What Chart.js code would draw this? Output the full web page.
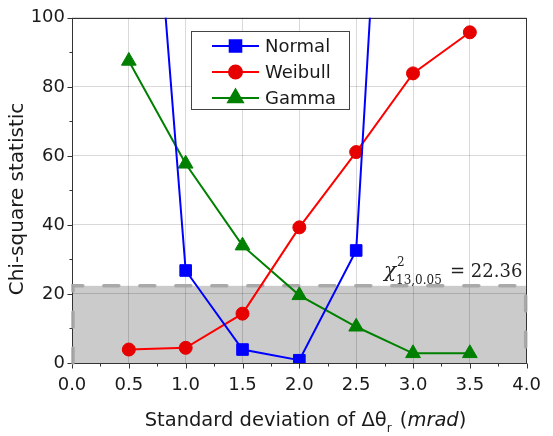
<!DOCTYPE html>
<html><head><meta charset="utf-8">
<script src="https://cdn.jsdelivr.net/npm/chart.js@4/dist/chart.umd.min.js"></script>
<style>html,body{margin:0;padding:0;background:#fff;}</style>
</head><body>
<canvas id="c" width="553" height="436"></canvas>
<script>
// ---- data ----
const xValues = [0.5, 1.0, 1.5, 2.0, 2.5, 3.0, 3.5];
const normalValues = [235, 26.8, 3.9, 0.8, 32.6, 312, null];
const weibullValues = [3.9, 4.4, 14.3, 39.3, 61.1, 83.9, 95.8];
const gammaValues = [87.5, 57.7, 34.0, 19.6, 10.5, 2.8, 2.8];
const seriesNames = ['Normal', 'Weibull', 'Gamma'];
const xTickValues = [0, 0.5, 1.0, 1.5, 2.0, 2.5, 3.0, 3.5, 4.0];
const yTickValues = [0, 20, 40, 60, 80, 100];
const criticalValue = 22.36;
const criticalLabel = ['χ', '2', '13,0.05', '= 22.36'];
const yTitle = 'Chi-square statistic';
const xTitleParts = ['Standard deviation of Δθ', 'r', ' (', 'mrad', ')'];

const toPoints = arr => xValues.map((x, i) => ({x: x, y: arr[i]}));

const TXT = '#1a1a1a';
const SANS = 'DejaVu Sans';

const chartPlugin = {
  id: 'custom',
  beforeDraw(chart) {
    const {ctx, chartArea: a, scales: {x, y}} = chart;
    const yc = y.getPixelForValue(criticalValue);
    ctx.save();
    ctx.fillStyle = '#cbcbcb';
    ctx.fillRect(a.left, yc, a.right - a.left, a.bottom - yc);
    ctx.restore();
  },
  beforeDatasetsDraw(chart) {
    const {ctx, chartArea: a, scales: {x, y}} = chart;
    ctx.save();
    ctx.strokeStyle = '#333';
    ctx.lineWidth = 1;
    ctx.strokeRect(Math.round(a.left) + 0.5, Math.round(a.top) + 0.5,
      Math.round(a.right - a.left) - 1, Math.round(a.bottom - a.top));
    ctx.beginPath();
    const bottom = Math.round(a.bottom) + 0.5;
    const left = Math.round(a.left) + 0.5;
    xTickValues.forEach((v, i) => {
      const px = Math.round(x.getPixelForValue(v)) + 0.5;
      ctx.moveTo(px, bottom); ctx.lineTo(px, bottom + 5);
      if (i < xTickValues.length - 1) {
        const m = Math.round(x.getPixelForValue((v + xTickValues[i + 1]) / 2)) + 0.5;
        ctx.moveTo(m, bottom); ctx.lineTo(m, bottom + 3);
      }
    });
    yTickValues.forEach((v, i) => {
      const py = Math.round(y.getPixelForValue(v)) + 0.5;
      ctx.moveTo(left, py); ctx.lineTo(left - 5, py);
      if (i < yTickValues.length - 1) {
        const m = Math.round(y.getPixelForValue((v + yTickValues[i + 1]) / 2)) + 0.5;
        ctx.moveTo(left, m); ctx.lineTo(left - 3, m);
      }
    });
    ctx.stroke();
    const yc = y.getPixelForValue(criticalValue);
    ctx.strokeStyle = 'rgba(165,165,165,0.95)';
    ctx.lineWidth = 3.5;
    ctx.lineCap = 'round';
    ctx.setLineDash([15, 21]);
    ctx.beginPath();
    ctx.moveTo(a.left + 1, a.bottom);
    ctx.lineTo(a.left + 1, yc);
    ctx.lineTo(a.right - 1, yc);
    ctx.lineTo(a.right - 1, a.bottom);
    ctx.stroke();
    ctx.restore();
  },
  afterDatasetsDraw(chart) {
    const {ctx} = chart;
    ctx.save();
    ctx.fillStyle = '#fff';
    ctx.fillRect(191.5, 31.5, 158, 78);
    ctx.strokeStyle = '#444';
    ctx.lineWidth = 1;
    ctx.strokeRect(191.5, 31.5, 158, 78);
    chart.data.datasets.forEach((ds, i) => {
      const yy = 46 + i * 26;
      ctx.strokeStyle = ds.borderColor;
      ctx.lineWidth = ds.borderWidth;
      ctx.setLineDash([]);
      ctx.beginPath();
      ctx.moveTo(212, yy); ctx.lineTo(259, yy);
      ctx.stroke();
      ctx.fillStyle = ds.pointBackgroundColor;
      ctx.strokeStyle = ds.pointBorderColor;
      Chart.helpers.drawPoint(ctx, {pointStyle: ds.pointStyle, radius: ds.pointRadius, borderWidth: ds.pointBorderWidth, rotation: 0}, 235.5, yy);
      ctx.fillStyle = TXT;
      ctx.font = '18px ' + SANS;
      ctx.textBaseline = 'middle';
      ctx.textAlign = 'left';
      ctx.fillText(ds.label, 265, yy + 1);
    });
    ctx.restore();
  },
  afterDraw(chart) {
    const {ctx} = chart;
    ctx.save();
    ctx.fillStyle = TXT;
    ctx.save();
    ctx.translate(17.5, 199);
    ctx.rotate(-Math.PI / 2);
    ctx.font = '20px ' + SANS;
    ctx.textAlign = 'center';
    ctx.textBaseline = 'middle';
    ctx.fillText(yTitle, 0, 0);
    ctx.restore();
    const fonts = ['19.5px ' + SANS, '12px ' + SANS, '19.5px ' + SANS, 'italic 19.5px ' + SANS, '19.5px ' + SANS];
    const dys = [0, 6, 0, 0, 0];
    let total = 0;
    const widths = xTitleParts.map((t, i) => { ctx.font = fonts[i]; const w = ctx.measureText(t).width; total += w; return w; });
    let xx = 304.5 - total / 2;
    ctx.textBaseline = 'alphabetic';
    ctx.textAlign = 'left';
    xTitleParts.forEach((t, i) => {
      ctx.font = fonts[i];
      ctx.fillText(t, xx, 426 + dys[i]);
      xx += widths[i] + (i === 1 ? 2 : 0);
    });
    ctx.fillStyle = '#222';
    ctx.font = 'italic 20px DejaVu Serif';
    ctx.fillText(criticalLabel[0], 384, 277);
    ctx.font = '12px DejaVu Serif';
    ctx.fillText(criticalLabel[1], 397, 266);
    ctx.fillText(criticalLabel[2], 396, 284);
    ctx.font = '18px DejaVu Serif';
    ctx.fillText(criticalLabel[3], 450, 277);
    ctx.restore();
  }
};

const fixTicks = vals => scale => { scale.ticks = vals.map(v => ({value: v})); };

new Chart(document.getElementById('c'), {
  type: 'line',
  data: {
    datasets: [
      {label: seriesNames[0], data: toPoints(normalValues), borderColor: '#0000ff', backgroundColor: '#0000ff',
       pointBackgroundColor: '#0000ff', pointBorderColor: '#0000ff', pointStyle: 'rect', pointRadius: 8.2, pointBorderWidth: 1, borderWidth: 2, spanGaps: false},
      {label: seriesNames[1], data: toPoints(weibullValues), borderColor: '#ff0000', backgroundColor: '#ff0000',
       pointBackgroundColor: '#e60000', pointBorderColor: '#e60000', pointStyle: 'circle', pointRadius: 6.5, pointBorderWidth: 1, borderWidth: 2},
      {label: seriesNames[2], data: toPoints(gammaValues), borderColor: '#008000', backgroundColor: '#008000',
       pointBackgroundColor: '#008000', pointBorderColor: '#008000', pointStyle: 'triangle', pointRadius: 8.5, pointBorderWidth: 1, borderWidth: 2}
    ]
  },
  options: {
    responsive: false, animation: false, devicePixelRatio: 1,
    layout: {padding: {left: 0, right: 14, top: 16, bottom: 0}},
    plugins: {legend: {display: false}, tooltip: {enabled: false}},
    elements: {line: {tension: 0}},
    scales: {
      x: {
        type: 'linear', min: 0, max: 4,
        afterBuildTicks: fixTicks(xTickValues),
        afterFit: s => { s.height = 73; },
        ticks: {font: {family: SANS, size: 18}, color: TXT, padding: 12, maxRotation: 0, autoSkip: false,
                callback: v => Number(v).toFixed(1)},
        grid: {color: 'rgba(0,0,0,0.15)', drawTicks: false},
        border: {display: false}
      },
      y: {
        type: 'linear', min: 0, max: 100,
        afterBuildTicks: fixTicks(yTickValues),
        afterFit: s => { s.width = 72; },
        ticks: {font: {family: SANS, size: 18}, color: TXT, padding: 7, autoSkip: false},
        grid: {color: 'rgba(0,0,0,0.15)', drawTicks: false},
        border: {display: false}
      }
    }
  },
  plugins: [chartPlugin]
});
</script>
</body></html>
